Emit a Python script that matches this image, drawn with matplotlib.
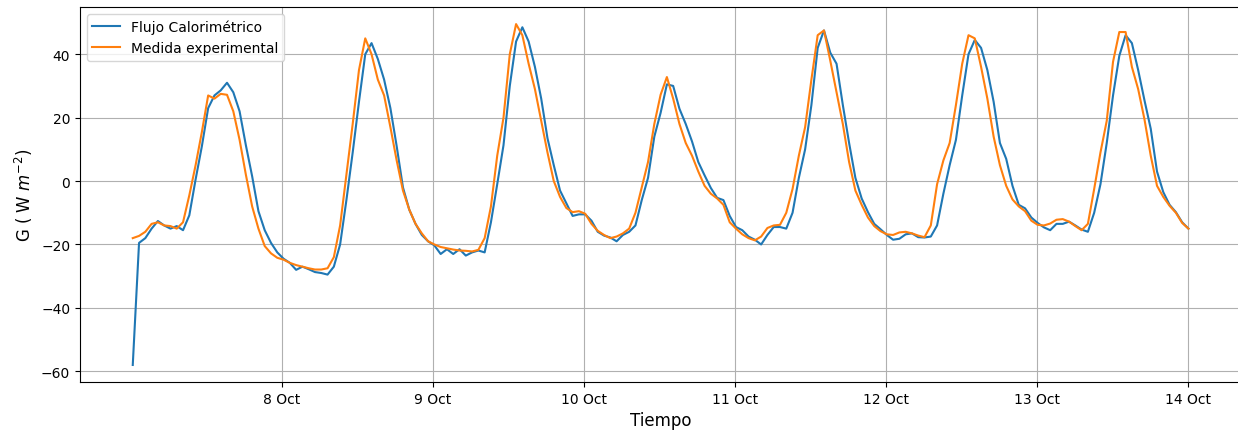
import numpy as np
import pandas as pd
import matplotlib
matplotlib.use("Agg")
import matplotlib.pyplot as plt
import matplotlib.dates as mdates

# valores horarios (W m^-2), 7 Oct 00:20 -> 14 Oct 00:00
flujo = [
    -58, -19.5, -18, -15, -12.6, -14, -15, -14.2, -15.5, -10.8,
    0.5, 11, 23, 27, 28.6, 31, 28, 22, 11.3, 1.5,
    -9.5, -15.5, -19.5, -22.5,
    -24.5, -25.8, -28, -27, -27.8, -28.7, -29, -29.5, -27, -20,
    -6, 9, 25, 40, 43.5, 38.5, 32, 23, 11, -2,
    -9, -13.5, -17, -19,
    -20.3, -23, -21.5, -23, -21.5, -23.5, -22.5, -21.9, -22.5, -13,
    -1, 11.3, 30, 44, 48.5, 44, 36, 26, 13.5, 5,
    -3, -7, -11, -10.5,
    -10.5, -12.5, -16, -17.2, -17.8, -19, -17, -16, -14, -6,
    1, 14, 21.5, 30.5, 30, 22.8, 18, 12.5, 6, 1.8,
    -2.2, -5.3, -6, -11,
    -14.5, -15.5, -17.5, -18.5, -20, -17, -14.5, -14.5, -15, -10,
    1, 10, 24, 42, 47.5, 40.5, 37, 24, 12, 1,
    -5.5, -9.8, -13.5, -15.2,
    -17, -18.5, -18.2, -16.8, -16.5, -17.7, -17.8, -17.5, -14, -4,
    5, 13, 27, 40, 44.5, 42, 35, 25, 12, 7,
    -1.5, -7.5, -8.6, -11.5,
    -13.2, -14.6, -15.5, -13.5, -13.5, -12.8, -14, -15.3, -16, -10,
    -1, 12, 27, 39.5, 46, 43.5, 35, 25.5, 16.5, 3,
    -3.5, -7.5, -9.8, -13, -15,
]

medida = [
    -18, -17.3, -16, -13.5, -13, -14, -14.2, -15, -13, -4.5,
    5, 15.5, 27, 26, 27.5, 27.2, 22, 13, 2, -8,
    -15, -20.5, -22.8, -24.2,
    -24.8, -25.8, -26.5, -27, -27.5, -27.9, -27.9, -27.5, -24, -14,
    2, 18, 35, 45, 40, 32, 27, 17, 6.5, -3,
    -9, -13.5, -16.5, -19,
    -20, -20.8, -21.2, -21.6, -21.9, -22, -22.2, -21.7, -18, -8,
    8, 20, 40, 49.5, 46, 37, 29, 19, 9, 0,
    -5, -8.5, -9.8, -9.5,
    -10.3, -13.5, -15.7, -17, -18, -17.5, -16.5, -15, -10, -2,
    6, 18, 27.2, 32.8, 26, 18, 12, 8, 3, -1.5,
    -4, -5.5, -7.5, -13,
    -15, -16.8, -18, -18.7, -17.5, -14.8, -14, -13.8, -10, -2.5,
    8, 17, 32, 46, 47.5, 38, 28, 18, 6, -3,
    -7.5, -11.5, -14.2, -15.8,
    -16.8, -17, -16.2, -16, -16.5, -17.2, -17.7, -14, -1, 6.5,
    12, 24, 37, 46, 45, 36, 26, 14, 5, -1.5,
    -5.8, -8, -9.5, -12.5,
    -13.8, -14, -13.4, -12.2, -12, -12.8, -14.2, -15.5, -13.5, -2.5,
    9, 19, 37.6, 47, 47, 36, 29, 19.5, 8, -1.5,
    -5, -7.8, -10, -13.2, -15,
]

tiempo = pd.date_range("2019-10-07 00:20", "2019-10-14 00:00", periods=len(flujo))
dias = pd.date_range("2019-10-08", "2019-10-14", freq="D")

fig = plt.figure(figsize=(12.38, 4.35), dpi=100)
ax = fig.add_axes([0.0646, 0.1195, 0.938, 0.862])

ax.plot(tiempo, flujo, label="Flujo Calorimétrico")
ax.plot(tiempo, medida, label="Medida experimental")

ax.set_xticks(dias)
ax.xaxis.set_major_formatter(mdates.DateFormatter("%-d %b"))
ax.set_xlabel("Tiempo", fontsize=12)
ax.set_ylabel("G ( W $m^{-2}$)", fontsize=12)
ax.grid(True)
ax.legend(loc="upper left")

plt.savefig("out.png", dpi=100)
